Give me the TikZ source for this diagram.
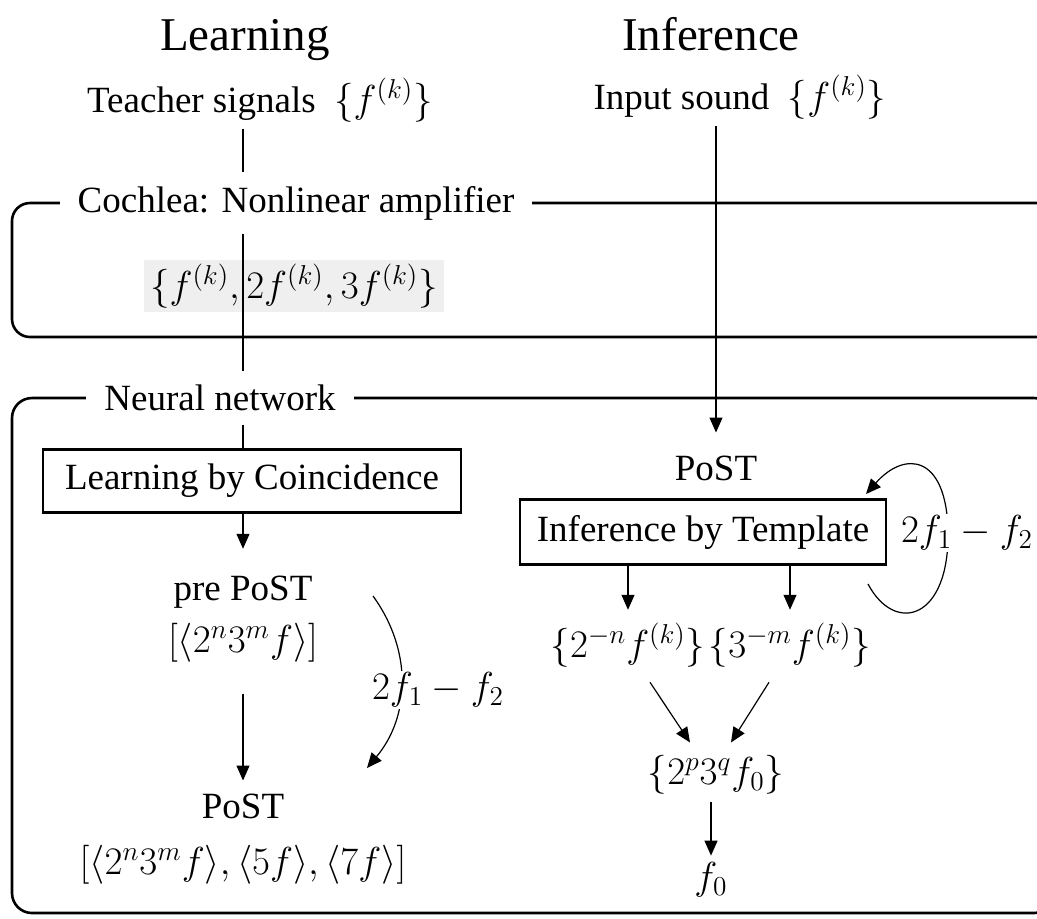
\documentclass[tikz,border=0pt]{standalone}
\usepackage{fix-cm}
\usepackage{amsmath}
\usepackage{fontspec}
\setmainfont{Liberation Serif}
\usepackage{tikz}
\usetikzlibrary{arrows.meta,positioning,calc}
\definecolor{shade}{HTML}{EFEFEF}
\newcommand{\bodysize}{\fontsize{18.5}{22}\selectfont}
\newcommand{\headsize}{\fontsize{23.5}{28}\selectfont}
% formulas are set a little larger than the text
\newcommand{\mth}[1]{{\fontsize{19.5}{23}\selectfont$#1$}}

\begin{document}
\begin{tikzpicture}[x=0.5pt,y=-0.5pt,font=\bodysize,
  conn/.style={line width=0.6pt},
  arr/.style={conn,-{Triangle[length=7.5pt,width=6.5pt]}},
  frame/.style={line width=1.3pt,rounded corners=9pt},
  block/.style={draw,line width=1.1pt,minimum height=31.5pt},
  tag/.style={fill=white,inner xsep=9pt,inner ysep=7pt}]

\useasboundingbox (0,0) rectangle (1037,918);
\clip (0,0) rectangle (1037,918);

% both frames run on past the right edge
\draw[frame] (12,203) rectangle (1054,337);
\draw[frame,rounded corners=10pt] (12,398) rectangle (1054,913);

% headings
\node[font=\headsize,anchor=base] (learnhd) at (245,50) {Learning};
\node[font=\headsize,anchor=base] (inferhd) at (711,50) {Inference};
\node (teacher) at (260,100) {Teacher signals~~\mth{\{f^{(k)}\}}};
\node (input) at (740,97) {Input sound~~\mth{\{f^{(k)}\}}};

% learning column
\node[fill=shade,inner xsep=3pt,inner ysep=2pt] (harm) at (294,286) {\mth{\{f^{(k)},2f^{(k)},3f^{(k)}\}}};
\node[block,minimum width=209pt] (coinc) at (252,481) {Learning by Coincidence};
\node (pre) at (243,592) {pre PoST};
\node (prelist) at (243,643) {\mth{[\langle 2^n3^mf\rangle]}};
\node (post) at (243,806) {PoST};
\node (postlist) at (243,865) {\mth{[\langle 2^n3^mf\rangle,\langle 5f\rangle,\langle 7f\rangle]}};

\draw[conn] (teacher.south -| pre) -- (coinc.north -| pre);
\node[tag] (cochlea) at (296,203) {Cochlea: Nonlinear amplifier};
\node[tag] (neural) at (220,398) {Neural network};

\draw[arr,shorten >=10pt] (coinc.south -| pre) -- (pre);
\draw[arr,shorten <=12pt,shorten >=3pt] (prelist) -- (post);

% distortion product feeding PoST
\coordinate (dstart) at (373,596);
\coordinate (dend) at (367,768);
\draw[arr] (dstart) to[bend left=38] (dend);
\node[fill=white,inner sep=1pt] (leftmix) at (438,690) {\mth{2f_1-f_2}};

% inference column
\node (post2) at (716,468) {PoST};
\node[block,minimum width=183pt,minimum height=32.5pt] (tmpl) at (703,532) {Inference by Template};
\node (neg2) at (628,645) {\mth{\{2^{-n}f^{(k)}\}}};
\node (neg3) at (790,645) {\mth{\{3^{-m}f^{(k)}\}}};
\node (prod) at (716,775) {\mth{\{2^p3^qf_0\}}};
\node (fzero) at (711,880) {\mth{f_0}};

\draw[arr,shorten >=8pt] (input.south -| post2) -- (post2);
\draw[arr,shorten >=3pt] (tmpl.south -| neg2) -- (neg2);
\draw[arr,shorten >=3pt] (tmpl.south -| neg3) -- (neg3);
\draw[arr] ($(neg2.south)+(22,8)$) -- ($(prod.north)+(-26,-6)$);
\draw[arr] ($(neg3.south)+(-21,8)$) -- ($(prod.north)+(15,-6)$);
\draw[arr] (prod.south -| fzero) -- (fzero);

% feedback loop on the template block
\coordinate (lpa) at (868,584);
\coordinate (lpb) at (866,494);
\draw[arr] (lpa) .. controls (895,635) and (950,620) .. (948,530)
  .. controls (946,455) and (905,450) .. (lpb);
\node[fill=white,inner sep=1pt] (loopmix) at (967,533) {\mth{2f_1-f_2}};
\end{tikzpicture}
\end{document}
